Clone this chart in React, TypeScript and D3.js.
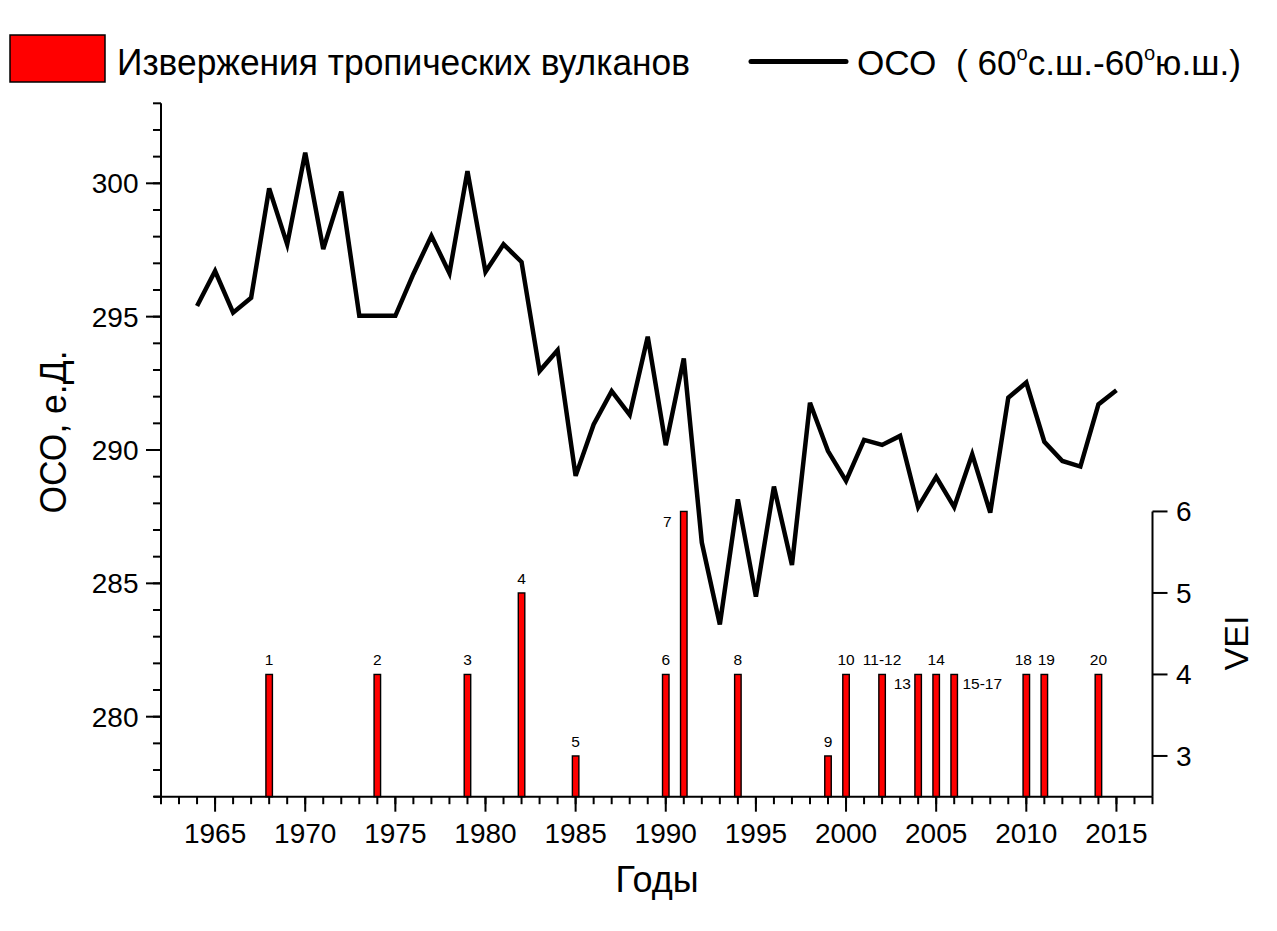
import React from "react";
import * as d3 from "d3";

// ---- Data ----
const years = [
  1964, 1965, 1966, 1967, 1968, 1969, 1970, 1971, 1972, 1973, 1974, 1975, 1976,
  1977, 1978, 1979, 1980, 1981, 1982, 1983, 1984, 1985, 1986, 1987, 1988, 1989,
  1990, 1991, 1992, 1993, 1994, 1995, 1996, 1997, 1998, 1999, 2000, 2001, 2002,
  2003, 2004, 2005, 2006, 2007, 2008, 2009, 2010, 2011, 2012, 2013, 2014, 2015,
];
const ozone = [
  295.4, 296.71, 295.15, 295.71, 299.81, 297.71, 301.15, 297.53, 299.69, 295.03,
  295.03, 295.03, 296.6, 298.03, 296.63, 300.46, 296.68, 297.71, 297.05, 292.96,
  293.74, 289.03, 290.96, 292.21, 291.32, 294.25, 290.18, 293.43, 286.53, 283.46,
  288.15, 284.5, 288.63, 285.69, 291.77, 289.96, 288.84, 290.38, 290.19, 290.53,
  287.86, 288.99, 287.86, 289.84, 287.65, 291.96, 292.53, 290.31, 289.59, 289.38,
  291.71, 292.24,
];
const eruptionYears = [
  1968, 1974, 1979, 1982, 1985, 1990, 1991, 1994, 1999, 2000, 2002, 2004, 2005,
  2006, 2010, 2011, 2014,
];
const veiValues = [4, 4, 4, 5, 3, 4, 6, 4, 3, 4, 4, 4, 4, 4, 4, 4, 4];
const eruptionLabels = [
  "1", "2", "3", "4", "5", "6", "7", "8", "9", "10", "11-12", "13", "14",
  "15-17", "18", "19", "20",
];
const labelSide = [
  "top", "top", "top", "top", "top", "top", "left", "top", "top", "top", "top",
  "left", "top", "right", "topL", "topR", "top",
];
const xMajorTicks = [1965, 1970, 1975, 1980, 1985, 1990, 1995, 2000, 2005, 2010, 2015];
const yMajorTicks = [280, 285, 290, 295, 300];
const veiTicks = [3, 4, 5, 6];

const legendBarLabel = "Извержения тропических вулканов";
const yTitle = "ОСО, е.Д.";
const xTitle = "Годы";
const veiTitle = "VEI";

const FONT = "'Liberation Sans', Arial, Helvetica, sans-serif";

export default function App() {
  const W = 1277;
  const H = 931;
  const left = 161;
  const right = 1152.5;
  const bottom = 796.7;
  const top = 103.3;

  const x = d3.scaleLinear().domain([1962, 2017]).range([left, right]);
  const y = d3.scaleLinear().domain([277, 303]).range([bottom, top]);
  const yV = d3.scaleLinear().domain([2.5, 6]).range([bottom, bottom - 3.5 * 81.5]);

  const line = d3
    .line<number>()
    .x((_, i) => x(years[i]))
    .y((d) => y(d));

  const xMinor = d3.range(1962, 2018, 1);
  const yMinor = d3.range(277, 304, 1);

  const barW = 6.5;

  return (
    <svg
      width={W}
      height={H}
      style={{ position: "absolute", left: 0, top: 0, background: "#fff", display: "block" }}
      fontFamily={FONT}
    >
      <rect x={0} y={0} width={W} height={H} fill="#fff" />

      {/* Legend */}
      <rect x={10} y={35} width={95} height={47} fill="#ff0000" stroke="#000" strokeWidth={1.5} />
      <text x={117} y={75} fontSize={37} textLength={573} lengthAdjust="spacingAndGlyphs" fill="#000">
        {legendBarLabel}
      </text>
      <line x1={751} y1={61.5} x2={846} y2={61.5} stroke="#000" strokeWidth={5} strokeLinecap="round" />
      <text x={857} y={75} fontSize={35} fill="#000" style={{ whiteSpace: "pre" }} textLength={384} lengthAdjust="spacingAndGlyphs">
        {"ОСО  ( 60"}
        <tspan fontSize={20} dy={-15}>o</tspan>
        <tspan dy={15}>{"с.ш.-60"}</tspan>
        <tspan fontSize={20} dy={-15}>o</tspan>
        <tspan dy={15}>{"ю.ш.)"}</tspan>
      </text>

      {/* Bars */}
      {eruptionYears.map((yr, i) => {
        const cx = x(yr);
        const yt = yV(veiValues[i]);
        return (
          <rect
            key={"b" + i}
            x={cx - barW / 2}
            y={yt}
            width={barW}
            height={bottom - yt}
            fill="#ff0000"
            stroke="#000"
            strokeWidth={1.4}
          />
        );
      })}
      {eruptionYears.map((yr, i) => {
        const cx = x(yr);
        const yt = yV(veiValues[i]);
        const side = labelSide[i];
        let tx = cx;
        let ty = yt - 9;
        let anchor: any = "middle";
        if (side === "left") {
          anchor = "end";
          tx = cx - barW / 2 - (veiValues[i] === 6 ? 9 : 4);
          ty = yt + (veiValues[i] === 6 ? 16 : 15);
        } else if (side === "right") {
          anchor = "start";
          tx = cx + barW / 2 + 5;
          ty = yt + 15;
        } else if (side === "topL") {
          tx = cx - 3;
        } else if (side === "topR") {
          tx = cx + 2;
        }
        return (
          <text key={"l" + i} x={tx} y={ty} fontSize={15.5} textAnchor={anchor} fill="#000">
            {eruptionLabels[i]}
          </text>
        );
      })}

      {/* Ozone line */}
      <path d={line(ozone) || ""} fill="none" stroke="#000" strokeWidth={4.5} strokeLinejoin="miter" strokeMiterlimit={4} />

      {/* X axis */}
      <line x1={left - 7} y1={bottom} x2={right} y2={bottom} stroke="#000" strokeWidth={2} />
      {xMinor.map((v) => (
        <line key={"xm" + v} x1={x(v)} x2={x(v)} y1={bottom} y2={bottom + 7.5} stroke="#000" strokeWidth={2} />
      ))}
      {xMajorTicks.map((v) => (
        <g key={"xM" + v}>
          <line x1={x(v)} x2={x(v)} y1={bottom} y2={bottom + 15} stroke="#000" strokeWidth={2} />
          <text x={x(v)} y={843} fontSize={28} textAnchor="middle" fill="#000">
            {v}
          </text>
        </g>
      ))}
      <text x={657} y={892} fontSize={36} textAnchor="middle" fill="#000">
        {xTitle}
      </text>

      {/* Left Y axis */}
      <line x1={left} y1={top} x2={left} y2={bottom + 1} stroke="#000" strokeWidth={2} />
      {yMinor.map((v) => (
        <line key={"ym" + v} x1={left - 8} x2={left} y1={y(v)} y2={y(v)} stroke="#000" strokeWidth={2} />
      ))}
      {yMajorTicks.map((v) => (
        <g key={"yM" + v}>
          <line x1={left - 15} x2={left} y1={y(v)} y2={y(v)} stroke="#000" strokeWidth={2} />
          <text x={138.5} y={y(v) + 10} fontSize={28} textAnchor="end" fill="#000">
            {v}
          </text>
        </g>
      ))}
      <text
        transform={`translate(66, 432) rotate(-90)`}
        fontSize={36}
        textAnchor="middle"
        textLength={163}
        lengthAdjust="spacingAndGlyphs"
        fill="#000"
      >
        {yTitle}
      </text>

      {/* Right VEI axis */}
      <line x1={right} y1={yV(6)} x2={right} y2={bottom} stroke="#000" strokeWidth={2} />
      {veiTicks.map((v) => (
        <g key={"v" + v}>
          <line x1={right} x2={right + 15} y1={yV(v)} y2={yV(v)} stroke="#000" strokeWidth={2} />
          <text x={1176} y={yV(v) + 10} fontSize={28} textAnchor="start" fill="#000">
            {v}
          </text>
        </g>
      ))}
      <text transform={`translate(1248, 643) rotate(-90)`} fontSize={34} textAnchor="middle" fill="#000">
        {veiTitle}
      </text>
    </svg>
  );
}
